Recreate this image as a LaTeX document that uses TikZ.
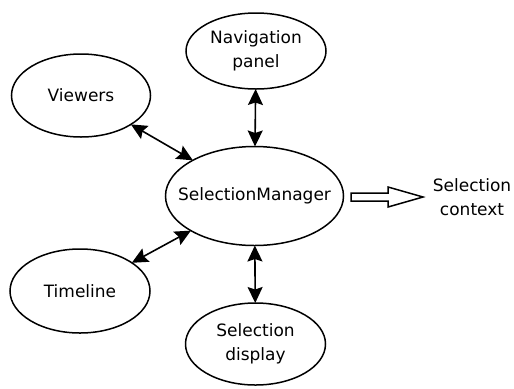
\documentclass[tikz,border=0pt]{standalone}
\usepackage{fontspec}
\setmainfont{DejaVu Sans}
\usetikzlibrary{shapes.geometric,arrows.meta}
\begin{document}
\begin{tikzpicture}[x=1bp,y=-1bp,
  every node/.style={font=\fontsize{17bp}{24bp}\selectfont, align=center},
  oval/.style={ellipse, draw, line width=1.5bp, inner sep=0pt, outer sep=0pt},
  tipx/.tip={Stealth[length=16bp,width=15bp,inset=2.5bp]},
  link/.style={line width=1.6bp, tipx-tipx},
  hollow/.style={draw, line width=1.5bp, fill=white, line join=miter}]
\useasboundingbox (0,0) rectangle (514,388);
\node[oval, minimum width=140bp, minimum height=76bp] (nav) at (256,51) {Navigation\\panel};
\node[oval, minimum width=139bp, minimum height=83bp] (view) at (81,95.5) {Viewers};
\node[oval, inner xsep=-16bp, minimum width=178bp, minimum height=99bp] (sm) at (254.5,196) {SelectionManager};
\node[oval, minimum width=140bp, minimum height=84bp] (time) at (80,291) {Timeline};
\node[oval, minimum width=140bp, minimum height=82bp] (disp) at (255.5,344) {Selection\\display};
\node (ctx) at (472,197) {Selection\\context};
\draw[link] (nav) -- (sm);
\draw[link] (view) -- (sm);
\draw[link] (time) -- (sm);
\draw[link] (sm) -- (disp);
\coordinate (ha) at (351,197);
\draw[hollow] (ha) ++(0,-4) -- ++(37,0) -- ++(0,-6) -- ++(35,10) -- ++(-35,10) -- ++(0,-6) -- ++(-37,0) -- cycle;
\end{tikzpicture}
\end{document}
